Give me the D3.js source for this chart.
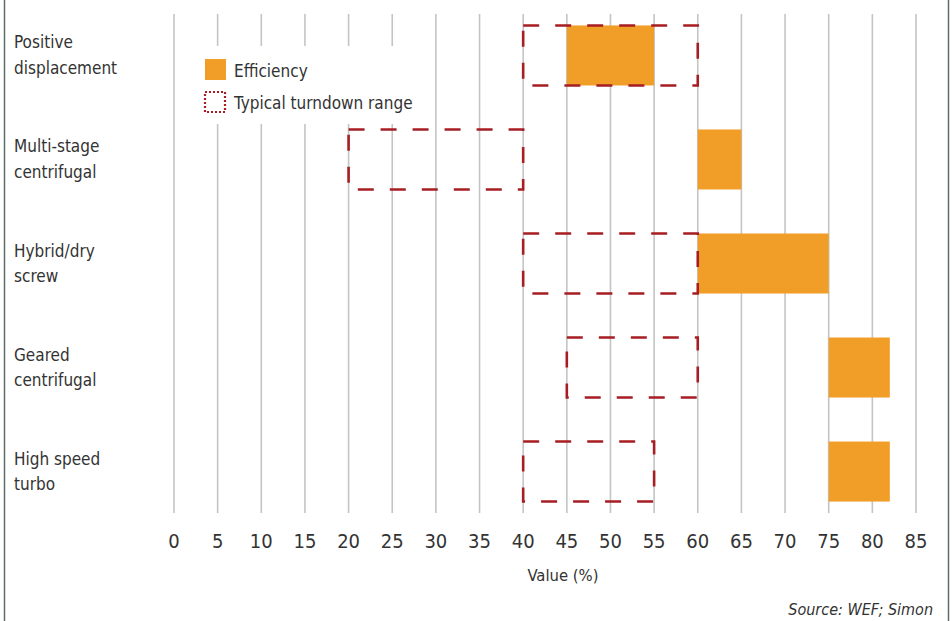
<!DOCTYPE html>
<html>
<head>
<meta charset="utf-8">
<script src="https://cdn.jsdelivr.net/npm/d3@7"></script>
<style>
  body { margin: 0; background: #fff; }
  svg { display: block; font-family: "Liberation Sans Narrow", "DejaVu Sans Condensed", "Open Sans", sans-serif; }
</style>
</head>
<body>
<svg class="chart"></svg>
<script>
// Chart data
var categories = ['Positive displacement', 'Multi-stage centrifugal', 'Hybrid/dry screw', 'Geared centrifugal', 'High speed turbo'];
var categoryLines = [['Positive', 'displacement'], ['Multi-stage', 'centrifugal'], ['Hybrid/dry', 'screw'], ['Geared', 'centrifugal'], ['High speed', 'turbo']];
var efficiencyStart = [45, 60, 60, 75, 75];
var efficiencyEnd = [55, 65, 75, 82, 82];
var turndownStart = [40, 20, 40, 45, 40];
var turndownEnd = [60, 40, 60, 60, 55];
var xTicks = [0, 5, 10, 15, 20, 25, 30, 35, 40, 45, 50, 55, 60, 65, 70, 75, 80, 85];

var width = 952;
var height = 621;
var orange = "#f09e27";
var darkRed = "#a61e24";

var svg = d3.select(".chart")
    .attr("width", width)
    .attr("height", height);

// Scales
var x = d3.scaleLinear()
    .domain([0, 85])
    .range([174, 916]);

var y = d3.scaleBand()
    .domain(categories)
    .range([14, 513])
    .paddingInner(0.423)
    .paddingOuter(0.11);

// Frame lines on the left and right
svg.append("line")
    .attr("x1", 4.5).attr("x2", 4.5)
    .attr("y1", 0).attr("y2", height)
    .style("stroke", "#5b6e68")
    .style("stroke-width", 1.5);

svg.append("line")
    .attr("x1", 948.5).attr("x2", 948.5)
    .attr("y1", 0).attr("y2", height)
    .style("stroke", "#5b6e68")
    .style("stroke-width", 1.5);

// Vertical gridlines
svg.selectAll(".grid")
    .data(xTicks)
    .enter().append("line")
    .attr("class", "grid")
    .attr("x1", function(d) { return x(d); })
    .attr("x2", function(d) { return x(d); })
    .attr("y1", 14)
    .attr("y2", 513)
    .style("stroke", "#c4c4c4")
    .style("stroke-width", 1.6);

// Tick labels
svg.selectAll(".tick-label")
    .data(xTicks)
    .enter().append("text")
    .attr("class", "tick-label")
    .attr("x", function(d) { return x(d); })
    .attr("y", 548)
    .attr("text-anchor", "middle")
    .style("font-size", "20px")
    .style("fill", "#333")
    .text(function(d) { return d; });

// Axis title
svg.append("text")
    .attr("x", 563)
    .attr("y", 581)
    .attr("text-anchor", "middle")
    .style("font-size", "16.5px")
    .style("fill", "#333")
    .text("Value (%)");

// Category labels, two lines each
var labels = svg.selectAll(".cat-label")
    .data(categories)
    .enter().append("text")
    .attr("class", "cat-label")
    .attr("x", 14)
    .attr("y", function(d) { return y(d) + y.bandwidth() / 2; })
    .style("font-size", "17px")
    .style("fill", "#333");

labels.selectAll("tspan")
    .data(function(d, i) { return categoryLines[i]; })
    .enter().append("tspan")
    .attr("x", 14)
    .attr("dy", function(d, i) { return i === 0 ? -7 : 25.5; })
    .text(function(d) { return d; });

// Legend with white background covering the gridlines
var legend = svg.append("g");

legend.append("rect")
    .attr("x", 195)
    .attr("y", 46)
    .attr("width", 222)
    .attr("height", 78)
    .style("fill", "#fff");

legend.append("rect")
    .attr("x", 205)
    .attr("y", 59)
    .attr("width", 21)
    .attr("height", 21)
    .style("fill", orange);

legend.append("rect")
    .attr("x", 205)
    .attr("y", 92)
    .attr("width", 20)
    .attr("height", 20)
    .style("fill", "none")
    .style("stroke", darkRed)
    .style("stroke-width", 2.2)
    .style("stroke-dasharray", "2,2");

legend.append("text")
    .attr("x", 234)
    .attr("y", 77)
    .style("font-size", "17px")
    .style("fill", "#333")
    .text("Efficiency");

legend.append("text")
    .attr("x", 234)
    .attr("y", 109)
    .style("font-size", "17px")
    .style("fill", "#333")
    .text("Typical turndown range");

// Efficiency bars
svg.selectAll(".eff-bar")
    .data(categories)
    .enter().append("rect")
    .attr("class", "eff-bar")
    .attr("x", function(d, i) { return x(efficiencyStart[i]); })
    .attr("y", function(d) { return y(d); })
    .attr("width", function(d, i) { return x(efficiencyEnd[i]) - x(efficiencyStart[i]); })
    .attr("height", y.bandwidth())
    .style("fill", orange);

// Turndown range dashed boxes
svg.selectAll(".turn-box")
    .data(categories)
    .enter().append("rect")
    .attr("class", "turn-box")
    .attr("x", function(d, i) { return x(turndownStart[i]); })
    .attr("y", function(d) { return y(d); })
    .attr("width", function(d, i) { return x(turndownEnd[i]) - x(turndownStart[i]); })
    .attr("height", y.bandwidth())
    .style("fill", "none")
    .style("stroke", darkRed)
    .style("stroke-width", 2.6)
    .style("stroke-dasharray", "16,16");

// Source note
svg.append("text")
    .attr("x", 933)
    .attr("y", 615)
    .attr("text-anchor", "end")
    .style("font-size", "16px")
    .style("font-style", "italic")
    .style("fill", "#333")
    .text("Source: WEF; Simon");
</script>
</body>
</html>
